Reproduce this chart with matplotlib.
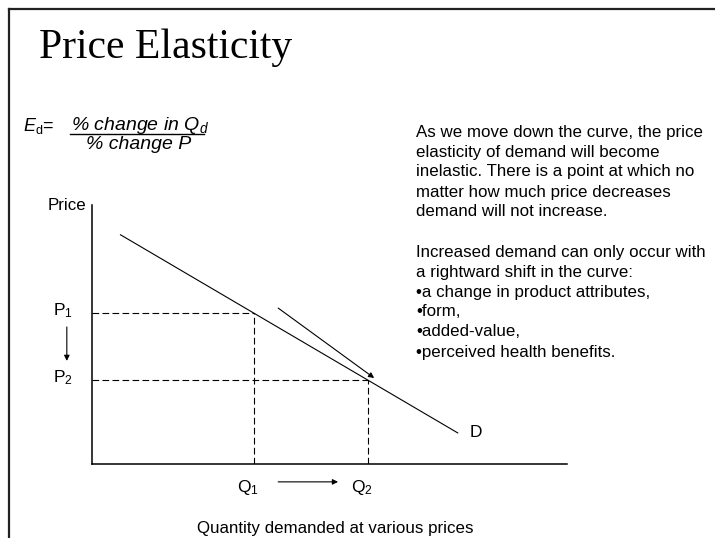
import matplotlib
matplotlib.use('Agg')
import matplotlib.pyplot as plt
from matplotlib.lines import Line2D

plt.rcParams['font.family'] = ['Liberation Sans', 'DejaVu Sans']
plt.rcParams['mathtext.fontset'] = 'custom'
plt.rcParams['mathtext.rm'] = 'Liberation Sans'
plt.rcParams['mathtext.it'] = 'Liberation Sans:italic'

W, H = 715, 538

# demand line (quantity, price)
demand_q = [0.6, 7.7]
demand_p = [8.85, 1.2]
# the two price / quantity points on the curve
pts_q = [3.4, 5.8]
pts_p = [5.83, 3.24]
q_labels = ['Q$_1$', 'Q$_2$']
p_labels = ['P$_1$', 'P$_2$']

note_lines = [
    'As we move down the curve, the price',
    'elasticity of demand will become',
    'inelastic. There is a point at which no',
    'matter how much price decreases',
    'demand will not increase.',
    '',
    'Increased demand can only occur with',
    'a rightward shift in the curve:',
    '\u2022a change in product attributes,',
    '\u2022form,',
    '\u2022added-value,',
    '\u2022perceived health benefits.',
]

FS = 12.2


def px(x, y):
    # pixel position -> figure fraction
    return x / W, 1 - y / H


fig = plt.figure(figsize=(W / 100, H / 100), dpi=100)

# slide frame (top and left edges)
fig.add_artist(Line2D([9 / W, 1], [1 - 9 / H] * 2, color='#222222', lw=1.6))
fig.add_artist(Line2D([9 / W] * 2, [0, 1 - 9 / H], color='#222222', lw=1.6))

fig.text(*px(39, 48), 'Price Elasticity', family='Liberation Serif',
         fontsize=30, va='center', ha='left')

# elasticity formula
fig.text(*px(23, 126), r'$E$$_{\mathrm{d}}$=', fontsize=13, va='center')
fig.text(*px(71, 125), r'% change in Q$_d$', fontsize=14, style='italic',
         va='center')
fig.add_artist(Line2D([70 / W, 204 / W], [1 - 134 / H] * 2, color='black', lw=1.0))
fig.text(*px(86, 145), '% change P', fontsize=14, style='italic', va='center')

for i, line in enumerate(note_lines):
    fig.text(*px(416, 132 + 20 * i), line, fontsize=FS, va='center')

fig.text(*px(197, 528), 'Quantity demanded at various prices', fontsize=FS,
         ha='left', va='center')
fig.text(*px(86, 206), 'Price', fontsize=FS, ha='right', va='center')

# chart area
ax = fig.add_axes([92 / W, 1 - 464 / H, 475 / W, 259 / H])
ax.set_xlim(0, 10)
ax.set_ylim(0, 10)
for s in ['top', 'right']:
    ax.spines[s].set_visible(False)
for s in ['left', 'bottom']:
    ax.spines[s].set_linewidth(1.1)
ax.set_xticks([])
ax.set_yticks([])
ax.patch.set_alpha(0)

ax.plot(demand_q, demand_p, color='black', lw=0.8)
ax.text(7.95, demand_p[1], 'D', fontsize=12.5, va='center', ha='left')

for q, p in zip(pts_q, pts_p):
    ax.plot([0, q], [p, p], color='black', lw=0.8, ls=(0, (6, 3)))
    ax.plot([q, q], [0, p], color='black', lw=0.8, ls=(0, (6, 3)))

for q, lab in zip(pts_q, q_labels):
    ax.text(q - 0.12, -0.92, lab, fontsize=12.5, ha='center', va='center',
            clip_on=False)
for p, lab in zip(pts_p, p_labels):
    ax.text(-0.62, p + 0.1, lab, fontsize=12.5, ha='center', va='center',
            clip_on=False)

arrow = dict(arrowstyle='-|>', color='black', lw=0.8, mutation_scale=8,
             shrinkA=0, shrinkB=0)
# movement along the curve
ax.annotate('', xy=(5.94, 3.32), xytext=(3.92, 6.02), arrowprops=arrow,
            annotation_clip=False)
# price falls
ax.annotate('', xy=(-0.53, 3.98), xytext=(-0.53, 5.29), arrowprops=arrow,
            annotation_clip=False)
# quantity rises
ax.annotate('', xy=(5.18, -0.69), xytext=(3.92, -0.69), arrowprops=arrow,
            annotation_clip=False)

fig.savefig('out.png', dpi=100)
